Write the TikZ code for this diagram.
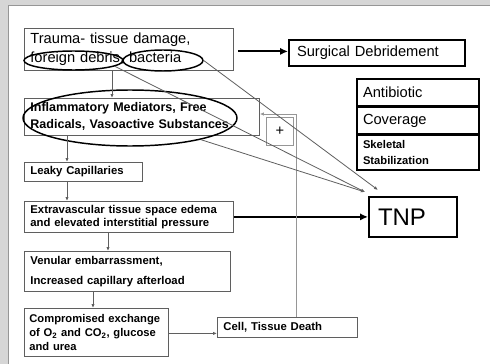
\documentclass[tikz,border=0pt]{standalone}
\usepackage{fontspec}
\setmainfont{Liberation Sans}
\usepackage{tikz}
\usetikzlibrary{calc}
\usetikzlibrary{arrows.meta}
\usetikzlibrary{shapes.geometric}
\definecolor{framegrey}{RGB}{214,214,214}
\definecolor{linegrey}{RGB}{95,95,95}
\definecolor{plusgrey}{RGB}{150,150,150}
\tikzset{every picture/.style={line width=0.75pt}}
\tikzset{
  box/.style={draw=linegrey, line width=0.6pt, anchor=north west, inner xsep=4.5pt, inner ysep=0pt, align=left},
  boldbox/.style={box, font=\fontsize{8.5}{10}\selectfont\bfseries},
  heavybox/.style={box, draw=black, line width=1.5pt, font=\fontsize{11}{14}\selectfont},
  oval/.style={ellipse, draw=black, line width=1.1pt, inner sep=0pt},
  link/.style={draw=linegrey, line width=0.6pt, -{Latex[length=3pt,width=2.5pt]}},
  bigarrow/.style={draw=black, line width=1.5pt, -{Latex[length=6pt,width=5.5pt]}}
}

\begin{document}
\begin{tikzpicture}[x=0.75pt,y=0.75pt,yscale=-1,xscale=1]
\useasboundingbox (0,0) rectangle (490,364);
%Shape: Frame
\fill[framegrey] (0,0) rectangle (490,364);
\fill[white] (8,5) rectangle (490,364);
\draw[framegrey!70!black, line width=0.4pt] (8,364) -- (8,5) -- (490,5);

% Text Node
\node[box, text width=147.75pt, minimum height=31.5pt, font=\fontsize{11}{14}\selectfont] (trauma) at (24,28) {Trauma- tissue damage,\\foreign debris, bacteria};
% Text Node
\node[heavybox, text width=120pt, minimum height=19.5pt, inner xsep=6pt] (surgical) at (288,39) {Surgical Debridement};
% Text Node
\node[boldbox, text width=167.25pt, minimum height=27.75pt, font=\fontsize{9.4}{12.75}\selectfont\bfseries] (inflam) at (24,98) {Inflammatory Mediators, Free\\Radicals, Vasoactive Substances};
% Text Node
\node[boldbox, text width=79.5pt, minimum height=14.25pt] (leaky) at (24,162) {Leaky Capillaries};
% Text Node
\node[boldbox, text width=147.75pt, minimum height=23.25pt] (edema) at (24,201) {Extravascular tissue space edema\\and elevated interstitial pressure};
% Text Node
\node[boldbox, text width=145.5pt, minimum height=30pt, font=\fontsize{8.5}{15}\selectfont\bfseries] (venular) at (24,251) {Venular embarrassment,\\Increased capillary afterload};
% Text Node
\node[boldbox, text width=100.5pt, minimum height=36pt, inner xsep=3.75pt, font=\fontsize{8.4}{10.5}\selectfont\bfseries] (exchange) at (24,308) {Compromised exchange\\of O\textsubscript{2} and CO\textsubscript{2}, glucose\\and urea};
% Text Node
\node[boldbox, text width=96pt, minimum height=15pt] (death) at (217,317) {Cell, Tissue Death};
% Text Node
\node[heavybox, text width=52.5pt, minimum height=30pt, inner xsep=6.75pt, font=\fontsize{18}{20}\selectfont] (tnp) at (368,196) {TNP};
% Text Node
\node[heavybox, text width=82.5pt, minimum height=20.25pt] (antibiotic) at (356,78) {Antibiotic};
% Text Node
\node[heavybox, text width=82.5pt, minimum height=20.25pt] (coverage) at (356,106) {Coverage};
% Text Node
\node[heavybox, text width=82.5pt, minimum height=26.25pt, font=\fontsize{8.4}{12}\selectfont\bfseries] (skeletal) at (356,134) {Skeletal\\Stabilization};
% Text Node
\node[box, draw=plusgrey, minimum width=20.25pt, minimum height=21pt, inner xsep=0pt, align=center, font=\fontsize{11}{13}\selectfont] (plus) at (266,117) {+};

%Shape: Ellipse
\node[oval, minimum width=74.25pt, minimum height=14.25pt] (debris) at (73.5,60.5) {};
%Shape: Ellipse
\node[oval, minimum width=60pt, minimum height=15.75pt] (bacteria) at (163,60.5) {};
%Shape: Ellipse
\node[oval, minimum width=160.5pt, minimum height=42pt] (mediators) at (130,118) {};

%Straight Lines
\draw[bigarrow] ([xshift=3pt,yshift=1.5pt]trauma.east) -- ([yshift=1.5pt]trauma.east -| surgical.west);
\draw[bigarrow] (edema.east) -- (tnp.west |- edema.east);
%Straight Lines
\draw[link] ([xshift=66pt]trauma.south west) coordinate (d1) -- (d1 |- inflam.north);
\draw[link] ([xshift=32.25pt]inflam.south west) coordinate (d2) -- (d2 |- leaky.north);
\draw[link] ([xshift=32.25pt]leaky.south west) coordinate (d3) -- (d3 |- edema.north);
\draw[link] ([xshift=63pt]edema.south west) coordinate (d4) -- (d4 |- venular.north);
\draw[link] ([xshift=51.75pt]venular.south west) coordinate (d5) -- (d5 |- exchange.north);
\coordinate (d6) at ([yshift=4.5pt]death.west);
\draw[link] (d6 -| exchange.east) -- (d6);
%Straight Lines
\coordinate (loop) at (296,114);
\draw[link, draw=plusgrey] (death.north -| loop) -- (loop) -- (loop -| inflam.east);
%Straight Lines
\coordinate (tipA) at (365,192);
\coordinate (tipB) at (378,190);
\draw[link] (debris.-8) -- (tipA);
\draw[link] (mediators.-17) -- (tipA);
\draw[link] (bacteria.east) -- (tipB);

\end{tikzpicture}
\end{document}
